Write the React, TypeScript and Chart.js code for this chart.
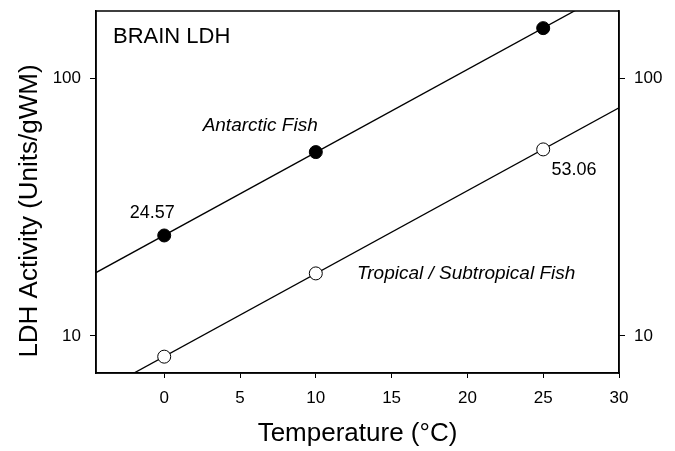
import React, { useEffect, useRef } from "react";
import { Chart, registerables } from "chart.js";

Chart.register(...registerables);

// ---- data ----
const temperatures = [0, 10, 25];
const antarcticValues = [24.57, 51.8, 157];
const tropicalValues = [8.31, 17.5, 53.06];
const xTicks = [0, 5, 10, 15, 20, 25, 30];
const yTicks = [10, 100];
const xRange = [-4.5, 30];
const yRange = [7.18, 183];

const FONT = '"Liberation Sans", Arial, Helvetica, sans-serif';

// text annotations anchored in data coordinates
const annotations = [
  { text: "Antarctic Fish", x: 6.33, y: 65.3, italic: true, align: "center" as CanvasTextAlign, size: 19 },
  { text: "24.57", x: -0.79, y: 30.0, italic: false, align: "center" as CanvasTextAlign, size: 18 },
  { text: "53.06", x: 27.03, y: 44.1, italic: false, align: "center" as CanvasTextAlign, size: 18 },
  { text: "Tropical / Subtropical Fish", x: 12.72, y: 17.5, italic: true, align: "left" as CanvasTextAlign, size: 19 },
];
const panelTitle = "BRAIN LDH";
const yTitle = "LDH Activity (Units/gWM)";
const xTitle = "Temperature (°C)";

// exponential (log-linear) regression through the data points
function fitLine(xs: number[], ys: number[]) {
  const ly = ys.map((v) => Math.log10(v));
  const n = xs.length;
  const mx = xs.reduce((a, b) => a + b, 0) / n;
  const my = ly.reduce((a, b) => a + b, 0) / n;
  let sxx = 0, sxy = 0;
  for (let i = 0; i < n; i++) {
    sxx += (xs[i] - mx) ** 2;
    sxy += (xs[i] - mx) * (ly[i] - my);
  }
  const b = sxy / sxx;
  const a = my - b * mx;
  return xRange.map((x) => ({ x, y: Math.pow(10, a + b * x) }));
}

const pts = (ys: number[]) => temperatures.map((x, i) => ({ x, y: ys[i] }));

export default function App() {
  const ref = useRef<HTMLCanvasElement | null>(null);

  useEffect(() => {
    document.body.style.margin = "0";
    const canvas = ref.current!;
    const frameAndText = {
      id: "frameAndText",
      afterDatasetsDraw(chart: any) {
        const { ctx, chartArea: ca, scales } = chart;
        ctx.save();
        ctx.strokeStyle = "#000";
        ctx.lineWidth = 1.5;
        ctx.strokeRect(ca.left, ca.top, ca.right - ca.left, ca.bottom - ca.top);
        ctx.fillStyle = "#000";
        ctx.textBaseline = "middle";
        for (const a of annotations) {
          ctx.font = `${a.italic ? "italic " : ""}${a.size}px ${FONT}`;
          ctx.textAlign = a.align;
          ctx.fillText(a.text, scales.x.getPixelForValue(a.x), scales.y.getPixelForValue(a.y));
        }
        ctx.font = `22px ${FONT}`;
        ctx.textAlign = "left";
        ctx.fillText(panelTitle, ca.left + 17, ca.top + 26);
        // y axis title (shifted slightly below the axis centre, as in the source)
        ctx.save();
        ctx.translate(30, (ca.top + ca.bottom) / 2 + 19);
        ctx.rotate(-Math.PI / 2);
        ctx.textAlign = "center";
        ctx.font = `26px ${FONT}`;
        ctx.fillText(yTitle, 0, 0);
        ctx.restore();
        ctx.restore();
      },
    };

    const yAxisBase = (position: "left" | "right") => ({
      type: "logarithmic" as const,
      position,
      min: yRange[0],
      max: yRange[1],
      afterBuildTicks: (s: any) => {
        s.ticks = yTicks.map((v) => ({ value: v }));
      },
      afterFit: (s: any) => {
        s.width = position === "left" ? 96 : 56;
        s.paddingTop = 0;
        s.paddingBottom = 0;
      },
      ticks: {
        color: "#000",
        font: { family: FONT, size: 17 },
        padding: 9,
        callback: (v: any) => String(v),
      },
      grid: { drawOnChartArea: false, color: "#000", tickLength: 6, lineWidth: 1 },
      border: { display: true, color: "#000", width: 1.5 },
    });

    const chart = new Chart(canvas, {
      type: "scatter",
      data: {
        datasets: [
          {
            label: "Antarctic Fish",
            data: pts(antarcticValues),
            pointRadius: 6.5,
            pointBackgroundColor: "#000",
            pointBorderColor: "#000",
            pointBorderWidth: 1,
            showLine: false,
            order: 0,
          },
          {
            label: "Tropical / Subtropical Fish",
            data: pts(tropicalValues),
            pointRadius: 6.5,
            pointBackgroundColor: "#fff",
            pointBorderColor: "#000",
            pointBorderWidth: 1,
            showLine: false,
            order: 0,
          },
          {
            label: "Antarctic fit",
            data: fitLine(temperatures, antarcticValues),
            showLine: true,
            borderColor: "#000",
            borderWidth: 1.3,
            pointRadius: 0,
            order: 1,
          },
          {
            label: "Tropical fit",
            data: fitLine(temperatures, tropicalValues),
            showLine: true,
            borderColor: "#000",
            borderWidth: 1.3,
            pointRadius: 0,
            order: 1,
          },
        ],
      },
      options: {
        animation: false,
        responsive: false,
        layout: { padding: { top: 11, left: 0, right: 0, bottom: 0 } },
        plugins: { legend: { display: false }, tooltip: { enabled: false } },
        scales: {
          x: {
            type: "linear",
            min: xRange[0],
            max: xRange[1],
            afterBuildTicks: (s: any) => {
              s.ticks = xTicks.map((v) => ({ value: v }));
            },
            afterFit: (s: any) => {
              s.height = 78;
              s.paddingLeft = 0;
              s.paddingRight = 0;
            },
            ticks: { color: "#000", font: { family: FONT, size: 17 }, padding: 10 },
            grid: { drawOnChartArea: false, color: "#000", tickLength: 5 },
            border: { display: true, color: "#000", width: 1.5 },
            title: {
              display: true,
              text: xTitle,
              color: "#000",
              font: { family: FONT, size: 26 },
              padding: { top: 0, bottom: 2 },
            },
          },
          y: yAxisBase("left"),
          y2: yAxisBase("right"),
        },
      },
      plugins: [frameAndText],
    } as any);
    return () => chart.destroy();
  }, []);

  return <canvas ref={ref} width={675} height={451} style={{ display: "block" }} />;
}
